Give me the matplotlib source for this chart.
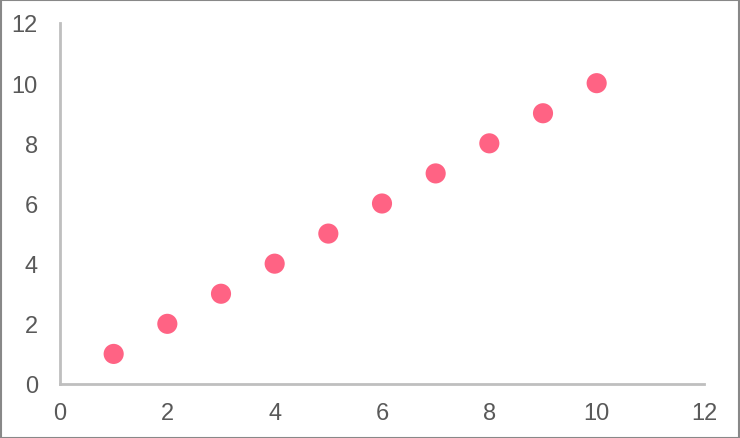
import matplotlib
matplotlib.use("Agg")
import matplotlib.pyplot as plt
from matplotlib.patches import Rectangle

plt.rcParams['font.family'] = ['Liberation Sans', 'DejaVu Sans']

x_vals = [1, 2, 3, 4, 5, 6, 7, 8, 9, 10]
y_vals = [1, 2, 3, 4, 5, 6, 7, 8, 9, 10]
ticks = [0, 2, 4, 6, 8, 10, 12]

fig = plt.figure(figsize=(7.4, 4.39), dpi=100)
ax = fig.add_axes([60 / 740, 54 / 439, 644 / 740, 361 / 439])

ax.scatter(x_vals, y_vals, s=210, color='#FF6384', edgecolors='none', zorder=3, clip_on=False)

ax.set_xlim(0, 12)
ax.set_ylim(0, 12)
ax.set_xticks(ticks)
ax.set_yticks(ticks)

for side in ['top', 'right']:
    ax.spines[side].set_visible(False)
for side in ['left', 'bottom']:
    ax.spines[side].set_color('#BFBFBF')
    ax.spines[side].set_linewidth(2)

ax.tick_params(axis='both', length=0, labelsize=17, labelcolor='#595959')
ax.tick_params(axis='y', pad=16)
ax.tick_params(axis='x', pad=13)

# outer border
fig.patches.append(Rectangle((0.5 / 740, 0.5 / 439), 1 - 1.5 / 740, 1 - 1.5 / 439,
                             transform=fig.transFigure, fill=False,
                             edgecolor='#888888', linewidth=1.5))

fig.savefig('out.png', dpi=100)
